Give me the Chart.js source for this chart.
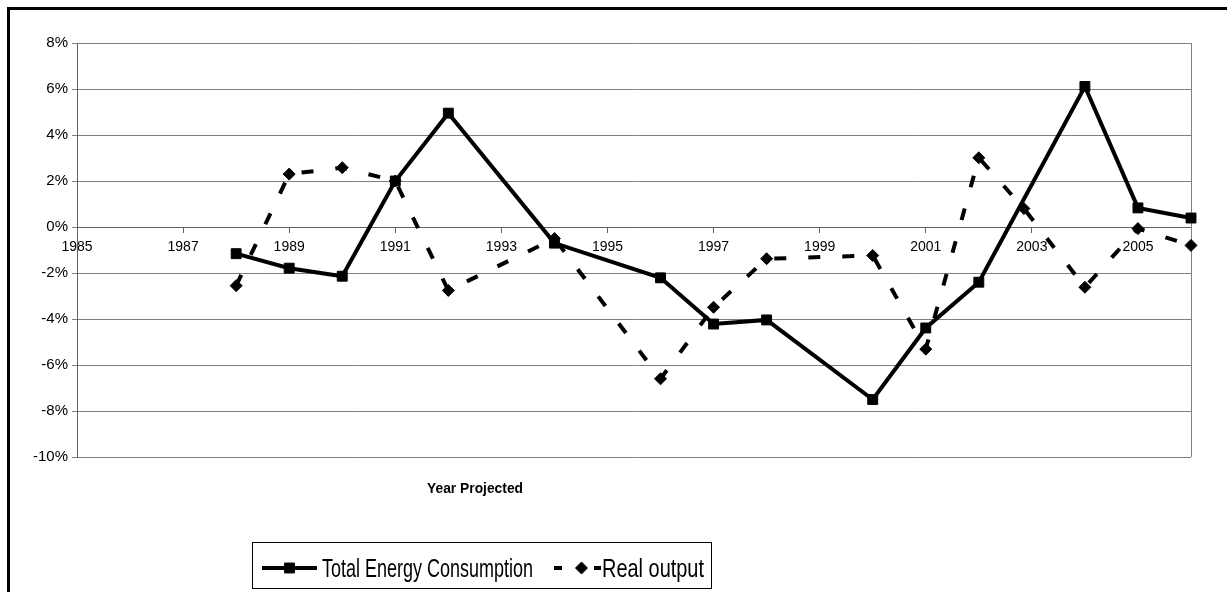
<!DOCTYPE html>
<html>
<head>
<meta charset="utf-8">
<script src="https://cdn.jsdelivr.net/npm/chart.js@4/dist/chart.umd.min.js"></script>
<style>
  html, body { margin: 0; padding: 0; background: #fff; overflow: hidden; }
  #frame { position: absolute; left: 7px; top: 7px; width: 1400px; height: 800px; border: 3px solid #000; }
  #chart { position: absolute; left: 0; top: 0; }
</style>
</head>
<body>
<div id="frame"></div>
<canvas id="chart" width="1227" height="592"></canvas>
<script>
// data
const energyYears = [1988, 1989, 1990, 1991, 1992, 1994, 1996, 1997, 1998, 2000, 2001, 2002, 2004, 2005, 2006];
const energyValues = [-1.16, -1.79, -2.14, 2.0, 4.95, -0.7, -2.21, -4.22, -4.04, -7.5, -4.39, -2.4, 6.11, 0.83, 0.39];

const outputYears = [1988, 1989, 1990, 1991, 1992, 1994, 1996, 1997, 1998, 2000, 2001, 2002, 2002.85, 2004, 2005, 2006];
const outputValues = [-2.55, 2.3, 2.58, 2.0, -2.76, -0.5, -6.6, -3.49, -1.38, -1.24, -5.31, 3.01, 0.8, -2.62, -0.07, -0.8];

const xTicks = [1985, 1987, 1989, 1991, 1993, 1995, 1997, 1999, 2001, 2003, 2005];
const seriesNames = ['Total Energy Consumption', 'Real output'];
const xTitle = 'Year Projected';

const FONT = '"Liberation Sans", Arial, sans-serif';
Chart.defaults.font.family = FONT;
Chart.defaults.color = '#000';

function toPoints(xs, ys) {
  return xs.map((x, i) => ({ x: x, y: ys[i] }));
}

// axis title, legend box and right plot border (Excel style)
const excelBits = {
  id: 'excelBits',
  beforeDatasetsDraw(chart) {
    const { ctx, chartArea } = chart;
    ctx.save();
    ctx.strokeStyle = '#808080';
    ctx.lineWidth = 1;
    ctx.beginPath();
    ctx.moveTo(chartArea.right + 0.5, chartArea.top);
    ctx.lineTo(chartArea.right + 0.5, chartArea.bottom);
    ctx.stroke();
    ctx.restore();
  },
  afterDraw(chart) {
    const ctx = chart.ctx;
    ctx.save();
    ctx.fillStyle = '#000';
    ctx.textAlign = 'center';
    ctx.font = 'bold 14px ' + FONT;
    ctx.fillText(xTitle, 475, 493, 96);

    // legend frame
    ctx.strokeStyle = '#000';
    ctx.lineWidth = 1;
    ctx.strokeRect(252.5, 542.5, 459, 46);

    const ly = 568;
    const sets = chart.data.datasets;
    // solid sample
    ctx.strokeStyle = sets[0].borderColor;
    ctx.lineWidth = sets[0].borderWidth;
    ctx.beginPath();
    ctx.moveTo(262, ly);
    ctx.lineTo(317, ly);
    ctx.stroke();
    ctx.fillStyle = '#000';
    ctx.lineWidth = 1;
    Chart.helpers.drawPoint(ctx, { pointStyle: sets[0].pointStyle, radius: sets[0].pointRadius, borderWidth: 1, rotation: 0 }, 289.5, ly);

    // dashed sample
    ctx.strokeStyle = sets[1].borderColor;
    ctx.lineWidth = sets[1].borderWidth;
    ctx.setLineDash([8, 32]);
    ctx.beginPath();
    ctx.moveTo(554, ly);
    ctx.lineTo(601, ly);
    ctx.stroke();
    ctx.setLineDash([]);
    ctx.lineWidth = 1;
    Chart.helpers.drawPoint(ctx, { pointStyle: sets[1].pointStyle, radius: sets[1].pointRadius, borderWidth: 1, rotation: 0 }, 581.5, ly);

    ctx.fillStyle = '#000';
    ctx.textAlign = 'left';
    ctx.font = '26px ' + FONT;
    ctx.fillText(seriesNames[0], 322, 577, 211);
    ctx.fillText(seriesNames[1], 602, 577, 102);
    ctx.restore();
  }
};

new Chart(document.getElementById('chart'), {
  type: 'line',
  data: {
    datasets: [
      {
        label: seriesNames[0],
        data: toPoints(energyYears, energyValues),
        borderColor: '#000',
        backgroundColor: '#000',
        borderWidth: 4,
        pointStyle: 'rect',
        pointRadius: 7,
        pointBorderWidth: 1,
        tension: 0,
        clip: false
      },
      {
        label: seriesNames[1],
        data: toPoints(outputYears, outputValues),
        borderColor: '#000',
        backgroundColor: '#000',
        borderWidth: 4,
        borderDash: [12, 22],
        pointStyle: 'rectRot',
        pointRadius: 6,
        pointBorderWidth: 1,
        tension: 0,
        clip: false
      }
    ]
  },
  options: {
    responsive: false,
    devicePixelRatio: 1,
    animation: false,
    layout: { padding: { left: 0, top: 43, right: 36, bottom: 135 } },
    plugins: {
      legend: { display: false },
      tooltip: { enabled: false }
    },
    scales: {
      x: {
        type: 'linear',
        position: { y: 0 },
        min: 1985,
        max: 2006,
        afterBuildTicks: (s) => { s.ticks = xTicks.map(v => ({ value: v })); },
        grid: { drawOnChartArea: false, drawTicks: true, tickLength: 5, color: '#606060' },
        border: { color: '#606060', width: 1 },
        ticks: {
          font: { size: 14 },
          color: '#000',
          padding: 7,
          maxRotation: 0,
          autoSkip: false,
          callback: (v) => String(v)
        }
      },
      y: {
        min: -10,
        max: 8,
        afterFit: (s) => { s.width = 77; },
        grid: { color: '#808080', tickLength: 5, lineWidth: 1 },
        border: { color: '#606060', width: 1 },
        ticks: {
          stepSize: 2,
          font: { size: 15 },
          color: '#000',
          padding: 4,
          callback: (v) => v + '%'
        }
      }
    }
  },
  plugins: [excelBits]
});
</script>
</body>
</html>
